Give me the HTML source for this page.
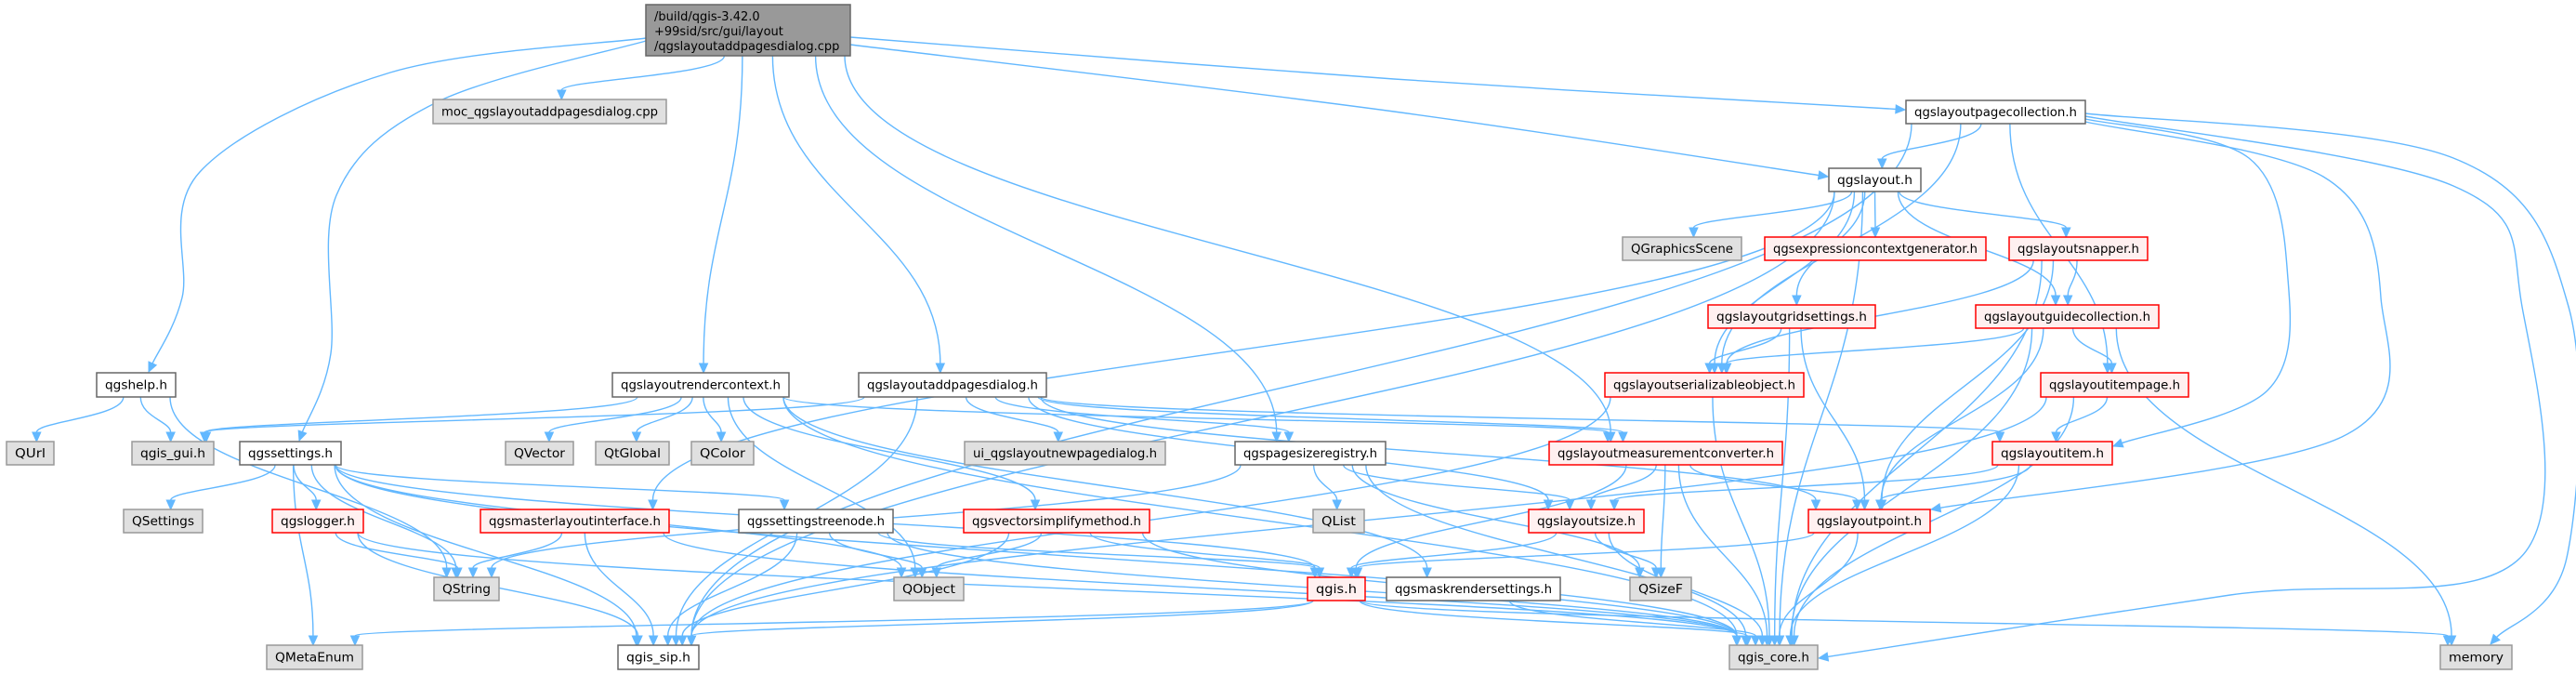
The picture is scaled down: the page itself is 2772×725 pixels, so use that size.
<!DOCTYPE html>
<html><head><meta charset="utf-8"><style>
html,body{margin:0;padding:0;background:#fff;width:2772px;height:725px;overflow:hidden}
svg{display:block}
text{font-family:"DejaVu Sans","Liberation Sans",sans-serif;font-size:13px;fill:#000}
</style></head><body>
<svg id="g" width="2772" height="725" xmlns="http://www.w3.org/2000/svg">
<g id="edges" fill="none" stroke="#63b8ff" stroke-width="1.4"></g>
<g id="arrows" fill="#63b8ff" stroke="#63b8ff" stroke-width="1"></g>
<g id="nodes"></g>
</svg>
<script>
var N={
main:[695,915,5,60,'m',''],
moc:[466,717,107,133,'g','moc_qgslayoutaddpagesdialog.cpp'],
help:[104,189,401,427,'w','qgshelp.h'],
rctx:[659,849,401,427,'w','qgslayoutrendercontext.h'],
apd:[924,1126,401,427,'w','qgslayoutaddpagesdialog.h'],
pcol:[2051,2244,108,133,'w','qgslayoutpagecollection.h'],
lay:[1968,2067,181,206,'w','qgslayout.h'],
gsc:[1746,1874,255,280,'g','QGraphicsScene'],
ecg:[1899,2137,255,280,'r','qgsexpressioncontextgenerator.h'],
snap:[2162,2311,255,280,'r','qgslayoutsnapper.h'],
grid:[1838,2018,328,353,'r','qgslayoutgridsettings.h'],
guide:[2126,2323,328,353,'r','qgslayoutguidecollection.h'],
ser:[1727,1941,401,427,'r','qgslayoutserializableobject.h'],
ipage:[2196,2355,401,427,'r','qgslayoutitempage.h'],
qurl:[7,58,475,500,'g','QUrl'],
gui:[142,230,475,500,'g','qgis_gui.h'],
set:[258,367,475,500,'w','qgssettings.h'],
qvec:[544,617,475,500,'g','QVector'],
qtg:[641,720,475,500,'g','QtGlobal'],
qcol:[744,811,475,500,'g','QColor'],
ui:[1038,1254,475,500,'g','ui_qgslayoutnewpagedialog.h'],
psr:[1329,1491,475,500,'w','qgspagesizeregistry.h'],
mc:[1667,1918,475,500,'r','qgslayoutmeasurementconverter.h'],
item:[2144,2273,475,500,'r','qgslayoutitem.h'],
qset:[133,218,548,573,'g','QSettings'],
log:[293,391,548,573,'r','qgslogger.h'],
mli:[517,720,548,573,'r','qgsmasterlayoutinterface.h'],
stn:[795,961,548,573,'w','qgssettingstreenode.h'],
vsm:[1037,1237,548,573,'r','qgsvectorsimplifymethod.h'],
qlist:[1413,1468,548,573,'g','QList'],
size:[1645,1769,548,573,'r','qgslayoutsize.h'],
pt:[1946,2077,548,573,'r','qgslayoutpoint.h'],
qstr:[467,537,621,646,'g','QString'],
qobj:[962,1037,621,646,'g','QObject'],
qgis:[1407,1469,621,646,'r','qgis.h'],
mask:[1492,1679,621,646,'w','qgsmaskrendersettings.h'],
sizef:[1754,1820,621,646,'g','QSizeF'],
menum:[287,390,694,720,'g','QMetaEnum'],
sip:[665,752,694,720,'w','qgis_sip.h'],
core:[1861,1956,694,720,'g','qgis_core.h'],
mem:[2626,2703,694,720,'g','memory']
};
var E=[
['main','moc'],
['main','help',[[695,41],[420,78],[215,185],[196,320],[160,400]]],
['main','set',[[695,44],[470,110],[362,210],[356,380],[322,474]]],
['main','rctx'],['main','apd'],
['main','pcol',[[915,40],[1500,85],[2050,118]]],
['main','lay',[[915,48],[1500,120],[1967,190]]],
['main','mc'],['main','psr'],
['help','qurl'],['help','gui'],['help','qstr'],
['set','qset'],['set','log'],['set','qstr'],['set','menum'],['set','sip'],['set','core'],['set','stn'],['set','qgis'],['set','qobj'],
['log','qstr'],['log','sip'],['log','core'],
['mli','qstr'],['mli','sip'],['mli','core'],
['stn','sip'],['stn','qobj'],['stn','qgis'],['stn','core'],
['rctx','qvec'],['rctx','qtg'],['rctx','qcol'],['rctx','gui'],['rctx','vsm'],['rctx','mask'],['rctx','qobj'],['rctx','core'],['rctx','mc'],
['apd','ui'],['apd','psr'],['apd','mc'],['apd','pt'],['apd','size'],['apd','sip'],['apd','gui'],['apd','item'],
['psr','qlist'],['psr','size'],['psr','sizef'],['psr','core'],['psr','qstr'],
['vsm','qobj'],['vsm','qgis'],['vsm','sip'],['vsm','core'],
['mc','size'],['mc','pt'],['mc','sizef'],['mc','qgis'],['mc','core'],
['size','qgis'],['size','sizef'],['size','core'],
['pt','qgis'],['pt','core'],
['qgis','menum'],['qgis','sip'],['qgis','core'],['qgis','mem'],
['mask','core'],
['item','size'],['item','pt'],['item','core'],
['ipage','item'],['ipage','sip'],['ipage','core'],
['ser','sip'],['ser','core'],
['guide','ser'],['guide','ipage'],['guide','pt'],['guide','core'],['guide','mem'],
['grid','ser'],['grid','pt'],['grid','core'],
['snap','guide'],['snap','ser'],['snap','pt'],['snap','core'],
['lay','gsc'],['lay','ecg'],['lay','snap'],['lay','guide'],['lay','grid'],['lay','ser'],['lay','core'],['lay','mli'],['lay','sip'],
['pcol','lay'],['pcol','ser'],['pcol','ipage'],
['pcol','item',[[2244,128],[2420,170],[2462,300],[2440,420],[2274,480]]],
['pcol','pt',[[2244,131],[2500,190],[2562,320],[2520,470],[2078,548]]],
['pcol','core',[[2244,125],[2640,200],[2714,330],[2712,600],[2400,640],[1957,708]]],
['pcol','mem',[[2244,122],[2640,170],[2764,330],[2762,600],[2680,693]]],
['pcol','sip']
];
var NS='http://www.w3.org/2000/svg';
function el(t,a,p){var e=document.createElementNS(NS,t);for(var k in a)e.setAttribute(k,a[k]);p.appendChild(e);return e;}
var eg=document.getElementById('edges'),ag=document.getElementById('arrows'),ng=document.getElementById('nodes');
function clamp(v,a,b){return Math.max(a,Math.min(b,v));}
function arrow(ex,ey,vx,vy){
 var l=Math.sqrt(vx*vx+vy*vy)||1;vx/=l;vy/=l;
 var px=-vy,py=vx,bx=ex-vx*10,by=ey-vy*10;
 el('polygon',{points:ex+','+ey+' '+(bx+px*4.5)+','+(by+py*4.5)+' '+(bx-px*4.5)+','+(by-py*4.5)},ag);
 return [bx,by];
}
E.forEach(function(e){
 var s=N[e[0]],t=N[e[1]];
 if(e[2]){
  var P=e[2].map(function(p){return p.slice();});
  var n=P.length,last=P[n-1],prev=P[n-2];
  var b=arrow(last[0],last[1],last[0]-prev[0],last[1]-prev[1]);
  P[n-1]=b;
  var d='M'+P[0][0]+','+P[0][1];
  for(var i=0;i<n-1;i++){
   var p0=P[Math.max(0,i-1)],p1=P[i],p2=P[i+1],p3=P[Math.min(n-1,i+2)];
   var c1x=p1[0]+(p2[0]-p0[0])/6,c1y=p1[1]+(p2[1]-p0[1])/6;
   var c2x=p2[0]-(p3[0]-p1[0])/6,c2y=p2[1]-(p3[1]-p1[1])/6;
   d+=' C'+c1x+','+c1y+' '+c2x+','+c2y+' '+p2[0]+','+p2[1];
  }
  el('path',{d:d},eg);
  return;
 }
 var scx=(s[0]+s[1])/2,tcx=(t[0]+t[1])/2;
 var sx=clamp(scx+(tcx-scx)*0.12,s[0]+6,s[1]-6),sy=s[3];
 var tx=clamp(tcx+(scx-tcx)*0.06,t[0]+8,t[1]-8),ty=t[2];
 var dy=ty-sy;
 var c1y=sy+dy*0.45,c2y=ty-dy*0.45;
 var ex=tx,ey=ty-10;
 el('path',{d:'M'+sx+','+sy+' C'+sx+','+c1y+' '+tx+','+c2y+' '+ex+','+ey},eg);
 var vx=ex-tx,vy=ey-c2y,l=Math.sqrt(vx*vx+vy*vy)||1;vx/=l;vy/=l;
 var px=-vy,py=vx;
 var tipx=ex+vx*10,tipy=ey+vy*10;
 el('polygon',{points:tipx+','+tipy+' '+(ex+px*4.5)+','+(ey+py*4.5)+' '+(ex-px*4.5)+','+(ey-py*4.5)},ag);
});
var sty={m:['#999999','#666666'],g:['#e0e0e0','#999999'],w:['#ffffff','#666666'],r:['#fff0f0','#ff0000']};
for(var k in N){
 var n=N[k],c=sty[n[4]];
 el('rect',{x:n[0],y:n[2],width:n[1]-n[0],height:n[3]-n[2],fill:c[0],stroke:c[1],'stroke-width':1.5},ng);
 if(k==='main'){
  var L=['/build/qgis-3.42.0','+99sid/src/gui/layout','/qgslayoutaddpagesdialog.cpp'];
  L.forEach(function(s,i){var t=el('text',{x:n[0]+9,y:n[2]+17+i*16},ng);t.textContent=s;});
 } else {
  var t=el('text',{x:(n[0]+n[1])/2,y:(n[2]+n[3])/2+4.5,'text-anchor':'middle',textLength:(n[1]-n[0]-18),lengthAdjust:'spacingAndGlyphs'},ng);
  t.textContent=n[5];
 }
}
</script>
</body></html>
